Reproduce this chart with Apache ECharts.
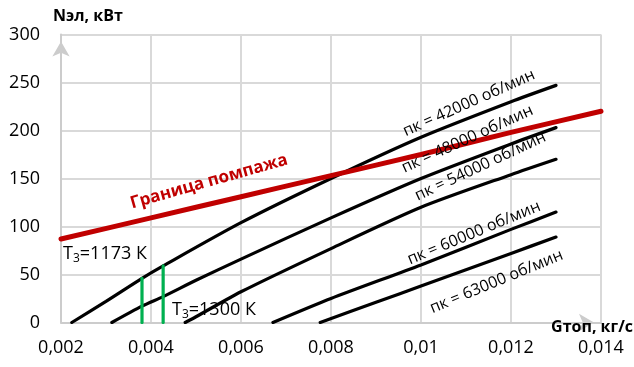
<!DOCTYPE html>
<html>
<head>
<meta charset="utf-8">
<script src="https://cdn.jsdelivr.net/npm/echarts@6/dist/echarts.min.js"></script>
<style>
  html, body { margin: 0; padding: 0; background: #fff; }
  #chart { width: 634px; height: 367px; }
</style>
</head>
<body>
<div id="chart"></div>
<script>
// Fuel flow axis ticks (kg/s) and their labels
const gTicks = [0.002, 0.004, 0.006, 0.008, 0.01, 0.012, 0.014];
const gTickLabels = ['0,002', '0,004', '0,006', '0,008', '0,01', '0,012', '0,014'];
// Electric power axis ticks (kW)
const nTicks = [0, 50, 100, 150, 200, 250, 300];

// Power vs fuel flow at constant compressor speed: [G, N]
const speed42000 = [[0.00224, 0], [0.003, 22], [0.0038, 46], [0.00427, 59], [0.006, 104], [0.008, 150], [0.01, 193], [0.012, 230], [0.013, 247]];
const speed48000 = [[0.00313, 0], [0.0038, 17], [0.00427, 27], [0.005, 44], [0.006, 66], [0.008, 109], [0.01, 150], [0.012, 186], [0.013, 203]];
const speed54000 = [[0.00476, 0], [0.005, 6], [0.006, 32], [0.008, 77], [0.01, 120], [0.012, 154], [0.013, 170]];
const speed60000 = [[0.00671, 0], [0.008, 25], [0.01, 60], [0.012, 97], [0.013, 115]];
const speed63000 = [[0.00776, 0], [0.009, 21], [0.01, 38], [0.012, 72], [0.013, 89]];

// Surge boundary
const surgeLine = [[0.002, 87], [0.004, 109], [0.006, 131], [0.008, 153], [0.01, 175], [0.012, 198], [0.014, 220]];

// Turbine inlet temperature limits
const limit1173 = [[0.0038, 0], [0.0038, 46]];
const limit1300 = [[0.00427, 0], [0.00427, 59]];

const speedSeries = [speed42000, speed48000, speed54000, speed60000, speed63000];
const speedNames = ['пк = 42000 об/мин', 'пк = 48000 об/мин', 'пк = 54000 об/мин', 'пк = 60000 об/мин', 'пк = 63000 об/мин'];
const surgeName = 'Граница помпажа';
const limitTexts = [['T', '3', '=1173 К'], ['T', '3', '=1300 К']];
const axisNames = ['Nэл, кВт', 'Gтоп, кг/с'];

const FONT = '"Open Sans", "Noto Sans", sans-serif';
const chart = echarts.init(document.getElementById('chart'));

function lineSeries(data, color, width, z) {
  return {
    type: 'line', data: data, smooth: 0.25,
    symbol: 'none', z: z, silent: true,
    lineStyle: { color: color, width: width, cap: 'round' }
  };
}

const axisLineStyle = {
  show: true,
  lineStyle: { color: '#cccccc', width: 2 },
  symbol: ['none', 'arrow'],
  symbolSize: [13, 15],
  symbolOffset: [0, -7]
};

chart.setOption({
  animation: false,
  grid: { left: 61, right: 33, top: 34.5, bottom: 44.5 },
  xAxis: {
    type: 'value', min: gTicks[0], max: gTicks[gTicks.length - 1], interval: 0.002,
    axisLine: axisLineStyle,
    axisTick: { show: false },
    axisLabel: {
      fontFamily: FONT, fontSize: 18, color: '#000', margin: 16,
      formatter: function (v) {
        const i = gTicks.findIndex(t => Math.abs(t - v) < 1e-9);
        return i >= 0 ? gTickLabels[i] : '';
      }
    },
    splitLine: { lineStyle: { color: '#d9d9d9', width: 2 } }
  },
  yAxis: {
    type: 'value', min: nTicks[0], max: nTicks[nTicks.length - 1], interval: 50,
    axisLine: axisLineStyle,
    axisTick: { show: false },
    axisLabel: { fontFamily: FONT, fontSize: 18, color: '#000', margin: 21 },
    splitLine: { lineStyle: { color: '#d9d9d9', width: 2 } }
  },
  series: [
    ...speedSeries.map(d => lineSeries(d, '#000000', 3.2, 2)),
    lineSeries(surgeLine, '#c00000', 5, 3),
    lineSeries(limit1173, '#00b050', 3.2, 4),
    lineSeries(limit1300, '#00b050', 3.2, 4)
  ]
});

// Text annotations, anchored in data coordinates
const px = (g, n) => chart.convertToPixel({ gridIndex: 0 }, [g, n]);
const deg = a => a * Math.PI / 180;

function rotatedText(text, at, angle, size, color, weight) {
  const p = px(at[0], at[1]);
  return {
    type: 'text', x: p[0], y: p[1], rotation: deg(angle), z: 10, silent: true,
    style: {
      text: text, fill: color, fontFamily: FONT, fontSize: size, fontWeight: weight || 'normal',
      align: 'center', verticalAlign: 'middle'
    }
  };
}

function limitText(parts, at) {
  const p = px(at[0], at[1]);
  return {
    type: 'text', x: p[0], y: p[1], z: 10, silent: true,
    style: {
      text: parts[0] + '{s|' + parts[1] + '}' + parts[2],
      fill: '#000', fontFamily: FONT, fontSize: 18,
      align: 'left', verticalAlign: 'middle',
      rich: { s: { fontFamily: FONT, fontSize: 12, fill: '#000', padding: [10, 0, 0, 0] } }
    }
  };
}

const speedAnchors = [[0.011067, 228.6], [0.011033, 191], [0.011322, 162.5], [0.011178, 93.2], [0.011678, 42.5]];
const speedAngles = [24, 24.5, 25, 22.5, 22.5];

const graphics = speedNames.map((t, i) => rotatedText(t, speedAnchors[i], speedAngles[i], 16, '#000'));
graphics.push(rotatedText(surgeName, [0.005289, 146.7], 15.8, 17, '#c00000', 'bold'));
graphics.push(limitText(limitTexts[0], [0.002045, 72]));
graphics.push(limitText(limitTexts[1], [0.004467, 13]));

const yName = px(gTicks[0], nTicks[nTicks.length - 1]);
const xName = px(gTicks[gTicks.length - 1], nTicks[0]);
graphics.push({
  type: 'text', x: yName[0] - 8, y: yName[1] - 18, z: 10, silent: true,
  style: { text: axisNames[0], fill: '#000', fontFamily: FONT, fontSize: 16, fontWeight: 'bold', align: 'left', verticalAlign: 'middle' }
});
graphics.push({
  type: 'text', x: xName[0] + 32, y: xName[1] + 5, z: 10, silent: true,
  style: { text: axisNames[1], fill: '#000', fontFamily: FONT, fontSize: 16, fontWeight: 'bold', align: 'right', verticalAlign: 'middle' }
});

chart.setOption({ graphic: graphics });
</script>
</body>
</html>
